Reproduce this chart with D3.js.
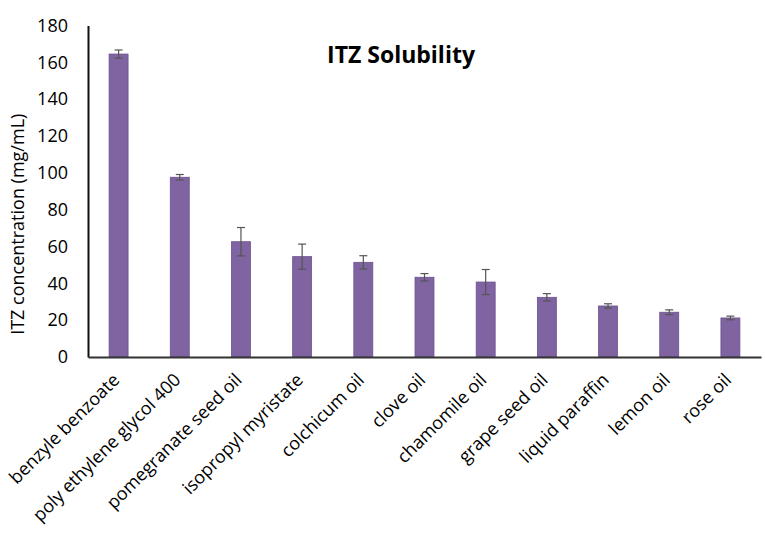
<!DOCTYPE html>
<html>
<head>
<meta charset="utf-8">
<script src="https://cdn.jsdelivr.net/npm/d3@7"></script>
<style>
  body { margin: 0; background: #fff; }
  text { font-family: "Open Sans", sans-serif; fill: #000; }
</style>
</head>
<body>
<figure style="margin:0"></figure>
<script>
const width = 765
const height = 537
const margin = { top: 25.5, right: 4, bottom: 180, left: 88 }

const categories = ['benzyle benzoate', 'poly ethylene glycol 400', 'pomegranate seed oil',
  'isopropyl myristate', 'colchicum oil', 'clove oil', 'chamomile oil', 'grape seed oil',
  'liquid paraffin', 'lemon oil', 'rose oil']
const values = [164.5, 97.6, 62.6, 54.5, 51.4, 43.3, 40.7, 32.4, 27.7, 24.3, 21.2]
const errors = [2.2, 1.5, 7.7, 6.8, 3.6, 2.0, 6.8, 2.0, 1.2, 1.3, 1.0]
const yTicks = [0, 20, 40, 60, 80, 100, 120, 140, 160, 180]

const svg = d3.select('figure').append('svg')
  .attr('width', width)
  .attr('height', height)

const x = d3.scaleBand()
  .domain(categories)
  .range([margin.left, width - margin.right])
  .paddingInner(0.69)
  .paddingOuter(0.345)

const y = d3.scaleLinear()
  .domain([0, 180])
  .range([height - margin.bottom, margin.top])

// bars
svg.append('g')
  .selectAll('rect')
  .data(categories)
  .join('rect')
  .attr('x', d => x(d))
  .attr('y', (d, i) => y(values[i]))
  .attr('width', x.bandwidth())
  .attr('height', (d, i) => y(0) - y(values[i]))
  .attr('fill', '#8064a2')
  .attr('stroke', '#6a5290')
  .attr('stroke-width', 0.8)

// error bars
const err = svg.append('g')
  .attr('stroke', '#555')
  .attr('stroke-width', 1.2)
  .selectAll('g')
  .data(categories)
  .join('g')
  .attr('transform', d => `translate(${x(d) + x.bandwidth() / 2},0)`)

err.append('line')
  .attr('y1', (d, i) => y(values[i] + errors[i]))
  .attr('y2', (d, i) => y(values[i] - errors[i]))
err.append('line')
  .attr('x1', -4).attr('x2', 4)
  .attr('y1', (d, i) => y(values[i] + errors[i]))
  .attr('y2', (d, i) => y(values[i] + errors[i]))
err.append('line')
  .attr('x1', -4).attr('x2', 4)
  .attr('y1', (d, i) => y(values[i] - errors[i]))
  .attr('y2', (d, i) => y(values[i] - errors[i]))

// y axis
const yAxis = svg.append('g')
  .attr('transform', `translate(${margin.left},0)`)
  .call(d3.axisLeft(y).tickValues(yTicks).tickSize(0).tickPadding(20))
yAxis.select('.domain').attr('stroke', '#111').attr('stroke-width', 2)
yAxis.selectAll('text').style('font-size', '18px')

// x axis
const xAxis = svg.append('g')
  .attr('transform', `translate(0,${y(0)})`)
  .call(d3.axisBottom(x).tickSize(0).tickPadding(0))
xAxis.select('.domain').attr('stroke', '#333').attr('stroke-width', 2)
xAxis.selectAll('text')
  .style('font-size', '18px')
  .attr('text-anchor', 'end')
  .attr('dy', 0)
  .attr('transform', 'translate(2,24) rotate(-45)')

// y label
svg.append('text')
  .attr('transform', `translate(24,${(y(0) + y(180)) / 2 + 33}) rotate(-90)`)
  .attr('text-anchor', 'middle')
  .style('font-size', '18px')
  .text('ITZ concentration (mg/mL)')

// title
svg.append('text')
  .attr('x', 401)
  .attr('y', 63)
  .attr('text-anchor', 'middle')
  .style('font-size', '23px')
  .style('font-weight', 'bold')
  .text('ITZ Solubility')
</script>
</body>
</html>
